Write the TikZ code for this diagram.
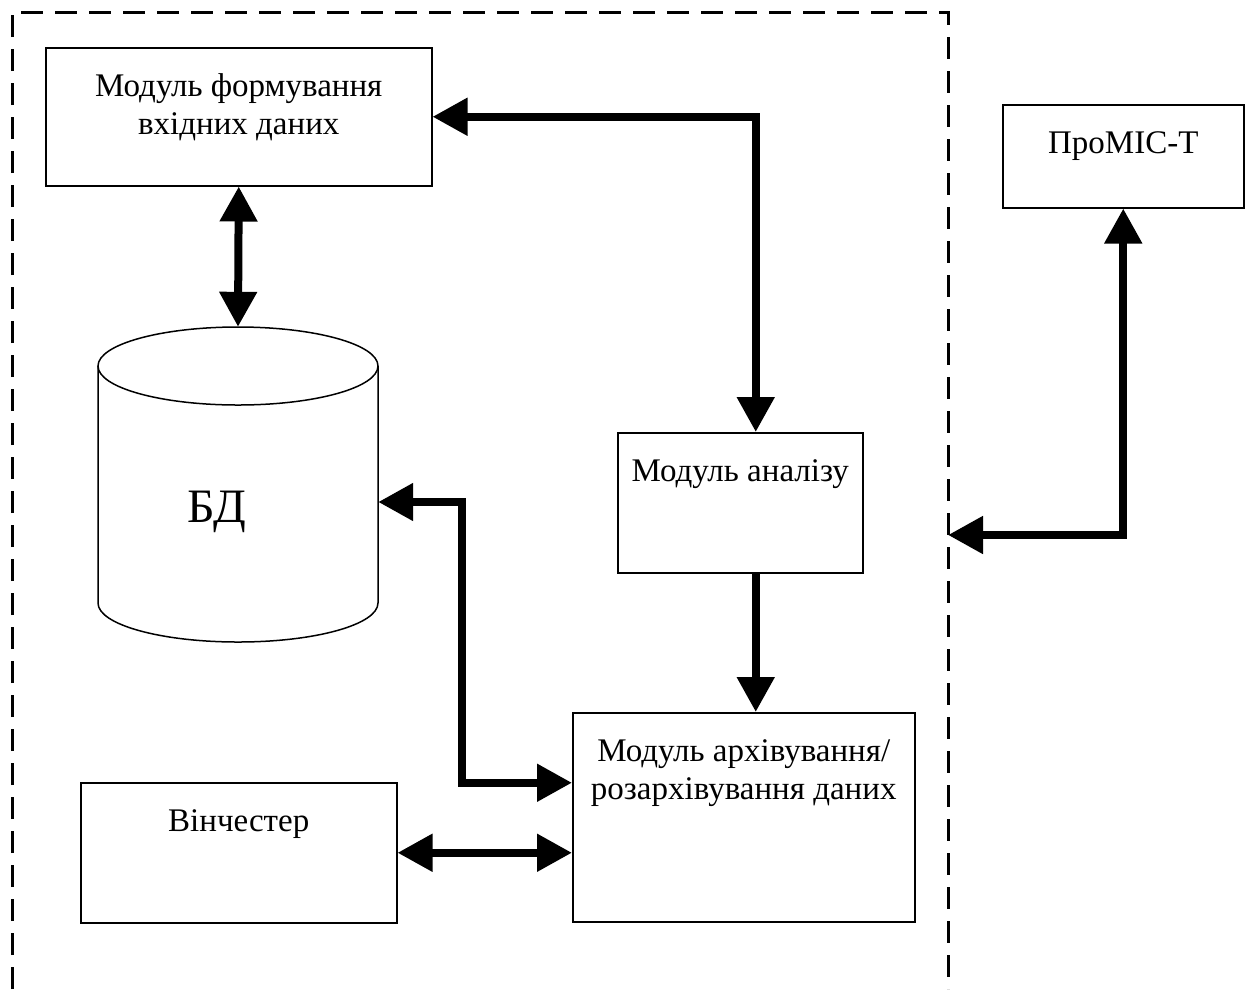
\documentclass[tikz,border=0pt]{standalone}
\usepackage{fontspec}
\setmainfont{Liberation Serif}
\usetikzlibrary{arrows.meta,calc}
\newcommand\blktext[3]{\parbox[t][#2pt][t]{#1pt}{\centering\vspace*{22pt}\strut #3\par}}
\begin{document}
\begin{tikzpicture}[x=1pt,y=-1pt,
  blk/.style={draw,line width=1.5pt,inner sep=0pt,anchor=north west,font=\fontsize{33}{38}\selectfont},
  arr/.style={line width=8pt,-{Triangle[length=35pt,width=36pt]}},
  darr/.style={line width=8pt,{Triangle[length=35pt,width=36pt]}-{Triangle[length=35pt,width=36pt]}},
  frame/.style={line width=3pt,dash pattern=on 22pt off 12pt},
  cyl/.style={line width=1.5pt}]
\useasboundingbox (0,0) rectangle (1247,989);
% blocks
\node[blk] (fm) at (45,47) {\blktext{386}{138}{Модуль формування\\вхідних даних}};
\node[blk] (an) at (617,432) {\blktext{245}{140}{Модуль аналізу}};
\node[blk] (ar) at (572,712) {\blktext{342}{209}{Модуль архівування/\\розархівування даних}};
\node[blk] (hd) at (80,782) {\blktext{316}{140}{Вінчестер}};
\node[blk] (pm) at (1002,104) {\blktext{241}{103}{ПроМІС-Т}};
% database cylinder
\node[minimum width=280pt,minimum height=315pt,inner sep=0pt] (db) at (238,484.5) {};
\draw[cyl] (238,366) ellipse[x radius=140pt,y radius=39pt];
\draw[cyl] (98,366) -- (98,603) arc[start angle=180,end angle=360,x radius=140pt,y radius=39pt] -- (378,366);
\node[font=\fontsize{48}{58}\selectfont,anchor=base,inner sep=0pt] (dbl) at (217,522) {БД};
% connectors
\draw[darr] (fm.south) -- (db.north);
\draw[darr] (fm.east) -| ($(an.north)+(15.5,0)$);
\coordinate (ax) at ($(an.south)+(15.5,0)$);
\draw[arr] (ax) -- (ax |- ar.north);
\draw[darr] ($(db.east)+(0,17.5)$) -- ++(84,0) |- ($(ar.west)+(0,-34.5)$);
\draw[darr] (hd.east) -- (hd.east -| ar.west);
\coordinate (bd) at (948,535);
\draw[darr] (bd) -| (pm.south);
% dashed frame
\draw[frame] (12,989) -- (12,12) -- (948,12) -- (948,989);
\end{tikzpicture}
\end{document}
